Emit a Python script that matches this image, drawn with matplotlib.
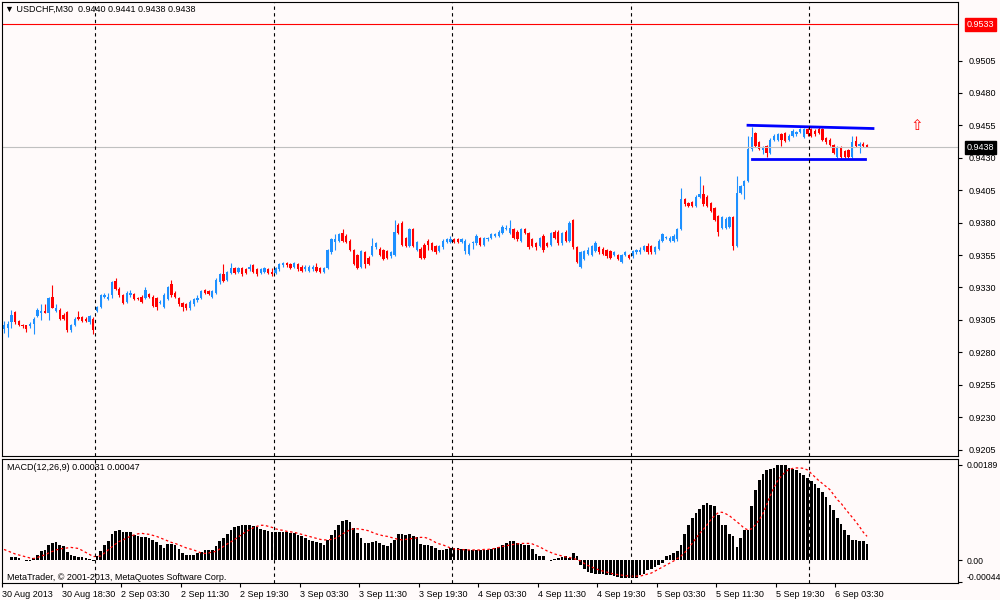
import numpy as np
import matplotlib
matplotlib.use('Agg')
import matplotlib.pyplot as plt

plt.rcParams['font.family'] = ['Liberation Sans', 'DejaVu Sans']

# USDCHF M30 candles, in pips above 0.9300
base = 0.9300
opens = [-2, -1, 3, 11, 4, 1, 1, 0, 2, 8, 10, 12, 10, 23, 12, 13, 9, 11, -3, 1, 7, 7, 6, 3, 6,
         12, 15, 23, 21, 24, 35, 29, 24, 19, 24, 25, 22, 23, 22, 25, 23, 22, 18, 15, 21, 33, 26, 22, 18, 17,
         14, 17, 20, 22, 28, 27, 23, 26, 34, 40, 36, 41, 45,
         42, 45, 44, 44, 47, 44, 41, 42, 44, 42, 41, 44, 47, 49, 48, 46, 48, 46, 44, 43, 44, 46, 45, 42, 45,
         57, 65, 66, 72, 70, 66, 59, 55, 46, 57, 53, 55, 61, 60, 59, 58, 54, 55, 78, 80, 68, 62, 75, 59, 60,
         63, 66, 64, 62, 58, 61, 65, 65, 67, 67, 65,
         58, 56, 64, 64, 68, 63, 67, 68, 70, 70, 72, 75, 72, 75, 73, 66, 75, 72, 67, 64, 62, 70, 64, 63, 73,
         73, 64, 73, 66, 82, 61, 46, 52, 56, 55, 58, 61, 60, 59, 58, 55, 55, 50, 55, 55, 54, 57, 57, 59, 62,
         62, 57, 60, 66, 68, 66, 66, 67,
         75, 98, 95, 96, 93, 100, 102, 100, 95, 91, 85, 76, 76, 77, 84, 62, 103, 108, 112, 137, 149, 142, 136, 139, 134,
         144, 144, 148, 149, 144, 147, 148, 150, 146, 152, 152, 151, 152, 152, 145, 144, 140, 131, 138, 135, 136, 131, 143, 139, 141, 140]
highs = [4, 4, 13, 12, 5, 2, 1, 3, 7, 14, 17, 17, 23, 32, 17, 14, 10, 12, 2, 7, 12, 8, 7, 9, 7,
         16, 25, 26, 26, 35, 37, 30, 25, 27, 28, 26, 23, 24, 30, 26, 24, 23, 20, 26, 31, 36, 27, 23, 19, 18,
         20, 22, 24, 28, 29, 28, 28, 37, 41, 48, 43, 49, 46,
         46, 46, 45, 48, 48, 45, 45, 46, 45, 45, 46, 49, 50, 50, 49, 50, 49, 47, 47, 47, 47, 49, 46, 46, 60,
         68, 71, 72, 75, 71, 67, 60, 56, 59, 58, 54, 68, 65, 61, 60, 59, 58, 82, 80, 81, 69, 76, 76, 66, 61,
         64, 67, 65, 63, 63, 67, 68, 70, 68, 68, 68,
         67, 64, 66, 71, 69, 69, 69, 72, 72, 74, 78, 78, 82, 76, 74, 76, 76, 73, 68, 65, 69, 71, 65, 73, 74,
         74, 73, 74, 81, 83, 62, 58, 59, 61, 63, 66, 62, 61, 60, 59, 58, 56, 56, 58, 56, 59, 60, 61, 63, 64,
         63, 62, 67, 72, 70, 70, 71, 76,
         107, 99, 96, 97, 101, 116, 109, 101, 96, 92, 86, 85, 84, 85, 85, 116, 109, 113, 147, 154, 150, 143, 139, 140, 145,
         148, 149, 149, 150, 148, 152, 151, 153, 153, 153, 153, 152, 154, 153, 146, 145, 141, 139, 139, 136, 137, 147, 147, 142, 142, 141]
lows = [-5, -8, -1, 2, 0, -1, -4, -1, -6, 7, 5, 10, 5, 14, 11, 5, 5, -4, -4, 0, 5, 3, 3, 2, -6,
        11, 14, 22, 20, 22, 28, 23, 17, 18, 23, 20, 20, 18, 21, 22, 15, 13, 17, 14, 20, 23, 22, 16, 12, 13,
        13, 16, 19, 21, 25, 24, 22, 25, 33, 34, 35, 40, 40,
        41, 39, 40, 43, 41, 39, 40, 41, 40, 39, 40, 43, 46, 46, 44, 45, 43, 42, 43, 42, 43, 42, 41, 41, 44,
        56, 59, 65, 65, 64, 58, 47, 44, 45, 45, 47, 54, 60, 54, 51, 52, 53, 54, 71, 62, 61, 61, 61, 58, 52,
        52, 59, 58, 56, 57, 60, 64, 64, 64, 64, 64,
        56, 55, 60, 63, 62, 62, 66, 67, 69, 69, 71, 74, 71, 67, 66, 65, 71, 60, 61, 59, 61, 57, 61, 62, 67,
        63, 63, 65, 65, 60, 49, 45, 51, 55, 54, 57, 56, 55, 53, 52, 54, 51, 49, 54, 52, 53, 56, 56, 58, 56,
        56, 56, 59, 65, 67, 65, 65, 66,
        74, 93, 92, 92, 92, 99, 93, 92, 88, 81, 70, 75, 75, 76, 59, 61, 102, 98, 111, 135, 138, 136, 133, 131, 133,
        143, 143, 139, 142, 143, 146, 147, 149, 145, 147, 146, 147, 148, 143, 141, 139, 133, 130, 130, 130, 130, 130, 138, 134, 138, 138]
closes = [1, 2, 9, 3, 1, 0, -2, 2, 6, 13, 12, 10, 22, 14, 14, 6, 6, -3, 1, 6, 6, 4, 4, 8, -3,
          15, 24, 24, 23, 34, 29, 24, 18, 26, 26, 21, 21, 19, 28, 23, 16, 15, 19, 24, 30, 24, 23, 17, 15, 14,
          19, 21, 22, 27, 26, 25, 27, 36, 40, 35, 42, 45, 41,
          45, 40, 41, 46, 42, 40, 44, 45, 41, 40, 45, 48, 49, 47, 45, 49, 44, 43, 46, 46, 46, 43, 42, 45, 59,
          67, 67, 71, 66, 65, 59, 48, 45, 58, 48, 48, 62, 64, 55, 52, 53, 57, 73, 72, 63, 62, 75, 62, 65, 53,
          53, 63, 59, 57, 62, 66, 67, 67, 65, 65, 67,
          66, 63, 65, 70, 63, 68, 68, 71, 71, 73, 77, 76, 76, 68, 67, 75, 72, 61, 62, 61, 68, 59, 62, 72, 68,
          64, 72, 66, 80, 61, 50, 57, 58, 59, 62, 64, 57, 56, 54, 53, 57, 52, 55, 57, 53, 58, 59, 59, 62, 57,
          57, 61, 66, 71, 69, 68, 70, 75,
          98, 94, 93, 93, 100, 102, 94, 93, 89, 82, 73, 84, 83, 84, 62, 103, 108, 112, 137, 146, 139, 137, 138, 134, 144,
          147, 148, 144, 143, 147, 151, 150, 152, 152, 148, 147, 148, 149, 144, 142, 140, 134, 138, 131, 131, 131, 142, 139, 141, 139, 138]

# MACD(12,26,9) main histogram and signal, in units of 0.00001
macd_main = [0, 0, 5, 5, 3, 1, -1, -1, 3, 10,
             17, 20, 30, 33, 35, 30, 27, 15, 10, 7,
             5, 5, 3, 2, -2, 7, 17, 29, 38, 51,
             58, 59, 55, 55, 55, 50, 47, 45, 45, 43,
             40, 35, 29, 23, 31, 31, 29, 22, 13, 9,
             9, 10, 13, 15, 19, 20, 20, 27, 38, 43,
             51, 60, 65, 68, 69, 69, 70, 67, 65, 62,
             60, 58, 55, 55, 55, 55, 55, 53, 53, 50,
             47, 43, 40, 38, 35, 33, 30, 40, 49, 60,
             70, 78, 80, 75, 63, 53, 43, 33, 33, 35,
             37, 33, 30, 27, 33, 40, 51, 51, 50, 51,
             48, 45, 31, 30, 29, 27, 23, 20, 20, 21,
             23, 23, 23, 22, 22, 20, 19, 19,
             19, 19, 20, 21, 23, 25, 30, 33, 37, 38,
             33, 31, 30, 29, 22, 11, 8, 7, 0, -2,
             2, 3, 5, 7, 3, 13, 7, -10, -17, -23,
             -25, -27, -27, -27, -29, -30, -31, -33, -35, -35,
             -35, -35, -35, -30, -27, -20, -17, -13, -10, -5,
             7, 10, 13, 17, 29, 52, 70, 83, 93, 101,
             110, 113, 110, 107, 90, 70, 69, 51, 47, 25,
             43, 60, 60, 107, 140, 160, 170, 178, 180, 183,
             189, 189, 189, 183, 181, 178, 173, 169, 163, 158,
             151, 143, 135, 125, 110, 100, 83, 71, 60, 50,
             40, 40, 38, 38, 31]
macd_signal = [21, 18, 15, 12, 10, 8, 6, 4, 3, 5, 8, 10, 14, 17, 20, 22, 23, 24, 25, 24,
               23, 19, 15, 11, 7, 7, 8, 14, 20, 26, 32, 37, 40, 44, 47, 50, 52, 53, 52, 51,
               49, 47, 44, 41, 38, 35, 33, 30, 27, 24, 22, 20, 17, 14, 13, 14, 16, 17, 22, 27,
               32, 36, 41, 46, 51, 56, 60, 64, 67, 69, 69, 67, 65, 62, 60, 59, 57, 56, 55, 53,
               51, 49, 47, 45, 43, 41, 40, 40, 41, 43, 47, 52, 56, 60, 62, 62, 61, 60, 58, 55,
               52, 50, 48, 47, 45, 43, 41, 40, 41, 42, 43, 44, 45, 45, 43, 39, 35, 32, 30, 27,
               24, 22, 21, 21, 20, 20, 20, 20, 20, 21, 21, 22, 23, 25, 27, 28, 30, 31, 32, 33,
               33, 33, 32, 29, 26, 22, 18, 15, 12, 10, 8, 6, 5, 3, 1, -2, -7, -11, -14, -17,
               -20, -22, -24, -26, -28, -29, -30, -31, -32, -32, -32, -32, -30, -28, -26, -22, -18, -14, -10, -6,
               -2, 3, 8, 15, 24, 33, 43, 53, 61, 70, 80, 88, 94, 95, 92, 88, 82, 76, 70, 63,
               60, 62, 70, 80, 92, 110, 128, 145, 158, 167, 175, 180, 182, 183, 183, 182, 179, 172, 165, 158,
               152, 146, 140, 130, 120, 113, 103, 94, 85, 76, 66, 55, 47]

date_labels = ['30 Aug 2013', '30 Aug 18:30', '2 Sep 03:30', '2 Sep 11:30', '2 Sep 19:30',
               '3 Sep 03:30', '3 Sep 11:30', '3 Sep 19:30', '4 Sep 03:30', '4 Sep 11:30',
               '4 Sep 19:30', '5 Sep 03:30', '5 Sep 11:30', '5 Sep 19:30', '6 Sep 03:30']
price_ticks = [0.9505, 0.9480, 0.9455, 0.9430, 0.9405, 0.9380, 0.9355, 0.9330,
               0.9305, 0.9280, 0.9255, 0.9230, 0.9205]
day_starts = [25, 73, 121, 169, 217]

# trend lines drawn on the chart (bar index, price)
upper_line_x = [200, 233.6]
upper_line_y = [0.94551, 0.94526]
lower_line_x = [201, 231.5]
lower_line_y = [0.94294, 0.94294]
level_line = 0.9533
last_price = 0.9438

assert len(opens) == len(highs) == len(lows) == len(closes) == len(macd_main) == len(macd_signal)

bg = '#FFFAFA'
n = len(closes)
x = np.arange(n)
o = base + np.array(opens) / 1e4
h = base + np.array(highs) / 1e4
l = base + np.array(lows) / 1e4
c = base + np.array(closes) / 1e4

fig = plt.figure(figsize=(10, 6), dpi=100, facecolor=bg)
ax = fig.add_axes([0.002, 0.24, 0.956, 0.7567], facecolor=bg)
ax2 = fig.add_axes([0.002, 0.02833, 0.956, 0.2067], facecolor=bg)

# candles
cols = np.where(c >= o, '#1E90FF', '#FF0000')
ax.vlines(x, l, h, colors=cols, lw=0.8)
ax.bar(x, np.maximum(np.abs(c - o), 0.00003), bottom=np.minimum(o, c), width=0.62,
       color=cols, linewidth=0)

ax.axhline(level_line, color='#FF0000', lw=0.8)
ax.axhline(last_price, color='#C0C0C0', lw=0.8)
ax.plot(upper_line_x, upper_line_y, color='#0000FF', lw=2)
ax.plot(lower_line_x, lower_line_y, color='#0000FF', lw=2)
ax.text(245.4, 0.9455, '\u21e7', color='#FF0000', ha='center', va='center',
        fontsize=11, family='DejaVu Sans')

# MACD
ax2.bar(x, np.array(macd_main) / 1e5, width=0.72, color='black', linewidth=0)
ax2.plot(x, np.array(macd_signal) / 1e5, color='#FF0000', lw=0.9, ls=(0, (2, 2)))

for a in (ax, ax2):
    for d in day_starts:
        a.axvline(d - 0.5, color='black', lw=0.8, ls=(0, (3, 3)))
    a.set_xlim(-0.54, 256.45)
    for s in a.spines.values():
        s.set_linewidth(0.8)
        s.set_color('black')
    a.yaxis.tick_right()
    a.tick_params(axis='y', direction='out', length=3, width=0.8, pad=5, labelsize=6.5)

ax.set_ylim(0.9200, 0.95502)
ax.set_xticks([])
ax.set_yticks(price_ticks)
ax.set_yticklabels(['%.4f' % p for p in price_ticks])

ax2.set_ylim(-0.000457, 0.002008)
ax2.set_yticks([0.00189, 0.0, -0.00044])
ax2.set_yticklabels(['0.00189', '0.00', '-0.00044'])
ax2.tick_params(axis='y', pad=3, labelsize=6.2)
ax2.get_yticklabels()[2].set_va('bottom')
ax2.set_xticks([16 * k - 0.5 for k in range(len(date_labels))])
ax2.set_xticklabels(date_labels)
ax2.tick_params(axis='x', direction='out', length=3, width=0.8, pad=2, labelsize=6.5)
for t in ax2.get_xticklabels():
    t.set_ha('left')

# boxed price labels on the right scale
ax.annotate('%.4f' % level_line, xy=(1, level_line), xycoords=('axes fraction', 'data'),
            xytext=(6, 0), textcoords='offset points', ha='left', va='center', color='white',
            fontsize=6.5, bbox=dict(boxstyle='square,pad=0.2', fc='#FF0000', ec='#FF0000'))
ax.annotate('%.4f' % last_price, xy=(1, last_price), xycoords=('axes fraction', 'data'),
            xytext=(6, 0), textcoords='offset points', ha='left', va='center', color='white',
            fontsize=6.5, bbox=dict(boxstyle='square,pad=0.2', fc='black', ec='black'))

fig.text(0.005, 1 - 9 / 600, '\u25bc USDCHF,M30  0.9440 0.9441 0.9438 0.9438',
         fontsize=6.5, va='center', ha='left')
fig.text(0.007, 1 - 467 / 600, 'MACD(12,26,9) 0.00031 0.00047', fontsize=6.5, va='center')
fig.text(0.007, 1 - 577 / 600, 'MetaTrader, \u00a9 2001-2013, MetaQuotes Software Corp.',
         fontsize=6.5, va='center')

fig.savefig('out.png', dpi=100, facecolor=bg)
